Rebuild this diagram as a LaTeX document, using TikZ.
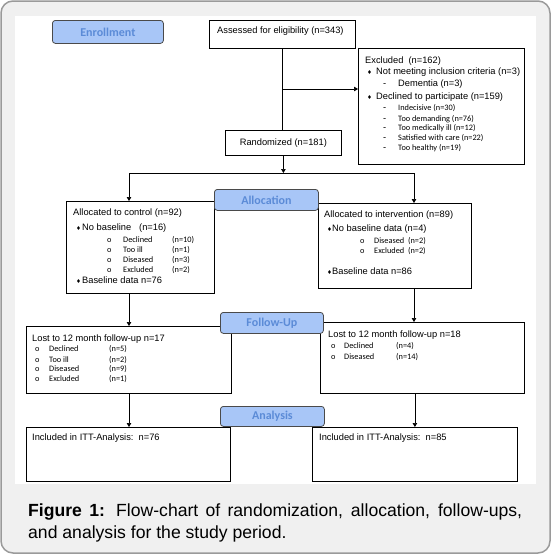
\documentclass[tikz,border=0pt]{standalone}
\usepackage{fontspec}
\setmainfont{Liberation Sans}
\newfontfamily\calfont{Carlito}
\newfontfamily\symfont{DejaVu Sans}
\usetikzlibrary{arrows.meta,positioning,calc}
\definecolor{framegray}{HTML}{9A9A9A}
\definecolor{panelgray}{HTML}{F0F0F0}
\definecolor{phasefill}{HTML}{A8C6F7}
\definecolor{phasetext}{HTML}{5B8BD7}
\definecolor{phaseline}{HTML}{4A4A4A}
\newcommand{\dia}{{\symfont\fontsize{5.5}{6}\selectfont ♦}}
\tikzset{
  box/.style={draw, line width=0.8pt, anchor=north west, inner sep=0pt,
              font=\fontsize{9.3}{10}\selectfont},
  phase/.style={draw=phaseline, line width=0.8pt, rounded corners=3pt, fill=phasefill,
                text=phasetext, anchor=north west, inner sep=0pt,
                font=\calfont\bfseries\fontsize{12}{12}\selectfont},
  txt/.style={anchor=mid west, inner sep=0pt, font=\fontsize{9.3}{10}\selectfont},
  sub/.style={anchor=mid west, inner sep=0pt, font=\calfont\fontsize{8.3}{9}\selectfont},
  arr/.style={-{Triangle[length=4pt,width=4.5pt]}, line width=0.7pt},
  ln/.style={line width=0.7pt},
}

\begin{document}
\begin{tikzpicture}[x=1pt, y=-1pt]
  \useasboundingbox (0,0) rectangle (551,554);
  \draw[framegray, line width=1.5pt, rounded corners=12pt, fill=panelgray] (1,1) rectangle (550,553);
  \fill[white] (15,16) rectangle (536,484);

  % enrollment
  \node[box, minimum width=146, minimum height=28] (assess) at (209,20) {};
  \node[txt] (assesst) at (217,31) {Assessed for eligibility (n=343)};
  \node[box, minimum width=166, minimum height=116] (excl) at (358,48) {};
  \node[txt] (exclt) at (365,61) {Excluded\ \ (n=162)};
  \foreach \y/\t [count=\i] in {72/Not meeting inclusion criteria (n=3), 97/Declined to participate (n=159)} {
    \node[txt] (exclb\i) at (367,\y) {\dia};
    \node[txt] (exclc\i) at (376,\y) {\t};
  }
  \node[txt] (excldm) at (383,84) {-};
  \node[txt] (excldt) at (398,84) {Dementia (n=3)};
  \foreach \y/\t [count=\i] in {108/Indecisive (n=30), 119/Too demanding (n=76), 128/Too medically ill (n=12),
                                138/Satisfied with care (n=22), 148/Too healthy (n=19)} {
    \node[txt] (excls\i) at (383,\y) {-};
    \node[sub] (exclr\i) at (398,\y) {\t};
  }
  \node[box, minimum width=116, minimum height=25] (rand) at (225,130) {Randomized (n=181)};

  % allocation
  \node[box, minimum width=148, minimum height=92] (ctrl) at (66,201) {};
  \node[txt] (ctrlt) at (73,213) {Allocated to control (n=92)};
  \foreach \y/\t [count=\i] in {228/No baseline, 281/Baseline data n=76} {
    \node[txt] (ctrlb\i) at (76,\y) {\dia};
    \node[txt] (ctrlc\i) at (82,\y) {\t};
  }
  \node[txt] (ctrln) at (139,228) {(n=16)};
  \foreach \y/\t/\n [count=\i] in {240/Declined/10, 250/Too ill/1, 260/Diseased/3, 270/Excluded/2} {
    \node[sub] (ctrlo\i) at (107,\y) {o};
    \node[sub] (ctrls\i) at (123,\y) {\t};
    \node[sub] (ctrlm\i) at (172,\y) {(n=\n)};
  }
  \node[box, minimum width=153, minimum height=85] (interv) at (318,203) {};
  \node[txt] (intervt) at (324,215) {Allocated to intervention (n=89)};
  \foreach \y/\t [count=\i] in {229/No baseline data (n=4), 272/Baseline data n=86} {
    \node[txt] (intervb\i) at (327,\y) {\dia};
    \node[txt] (intervc\i) at (332,\y) {\t};
  }
  \foreach \y/\t [count=\i] in {241/Diseased, 251/Excluded} {
    \node[sub] (intervo\i) at (360,\y) {o};
    \node[sub] (intervs\i) at (374,\y) {\t\ \ (n=2)};
  }

  % follow-up
  \node[box, minimum width=205, minimum height=67] (lostc) at (26,326) {};
  \node[txt] (lostct) at (32,339) {Lost to 12 month follow-up n=17};
  \foreach \y/\t/\n [count=\i] in {349/Declined/5, 360/Too ill/2, 369/Diseased/9, 379/Excluded/1} {
    \node[sub] (lostco\i) at (35,\y) {o};
    \node[sub] (lostcs\i) at (49,\y) {\t};
    \node[sub] (lostcm\i) at (109,\y) {(n=\n)};
  }
  \node[box, minimum width=204, minimum height=71] (losti) at (320,322) {};
  \node[txt] (lostit) at (328,335) {Lost to 12 month follow-up n=18};
  \foreach \y/\t/\n [count=\i] in {346/Declined/4, 357/Diseased/14} {
    \node[sub] (lostio\i) at (331,\y) {o};
    \node[sub] (lostis\i) at (344,\y) {\t};
    \node[sub] (lostim\i) at (396,\y) {(n=\n)};
  }

  % analysis
  \node[box, minimum width=204, minimum height=54] (ittc) at (26,427) {};
  \node[txt] (ittct) at (32,438) {Included in ITT-Analysis:\ \ n=76};
  \node[box, minimum width=205, minimum height=54] (itti) at (312,427) {};
  \node[txt] (ittit) at (319,438) {Included in ITT-Analysis:\ \ n=85};

  % connectors
  \coordinate (exin) at (358,89);
  \coordinate (splitl) at (129,173);
  \coordinate (splitr) at (414,173);
  \draw[ln] (assess.south) -- (assess.south |- rand.north);
  \draw[arr] (assess.south |- exin) -- (exin);
  \draw[arr] (rand.south) -- (rand.south |- splitl);
  \draw[ln] (splitl) -- (splitr);
  \draw[arr] (splitl) -- (splitl |- ctrl.north);
  \draw[arr] (splitr) -- (splitr |- interv.north);
  \draw[arr] (splitl |- ctrl.south) -- (splitl |- lostc.north);
  \draw[arr] (splitr |- interv.south) -- (splitr |- losti.north);
  \draw[arr] (splitl |- lostc.south) -- (splitl |- ittc.north);
  \draw[arr] (itti.north |- losti.south) -- (itti.north);

  % phase labels
  \node[phase, minimum width=111, minimum height=23] (enrol) at (52,20) {Enrollment};
  \node[phase, minimum width=104, minimum height=21] (alloc) at (214,189) {Allocation};
  \node[phase, minimum width=103, minimum height=21] (follow) at (220,312) {Follow-Up};
  \node[phase, minimum width=104, minimum height=20] (analysis) at (220,406) {Analysis};

  \node[anchor=north west, inner sep=0pt, text width=494pt, align=justify,
        font=\fontsize{17.6}{22}\selectfont] (caption) at (28,504)
        {\textbf{Figure 1:} Flow-chart of randomization, allocation, follow-ups,\linebreak and analysis for the study period.};
\end{tikzpicture}
\end{document}
